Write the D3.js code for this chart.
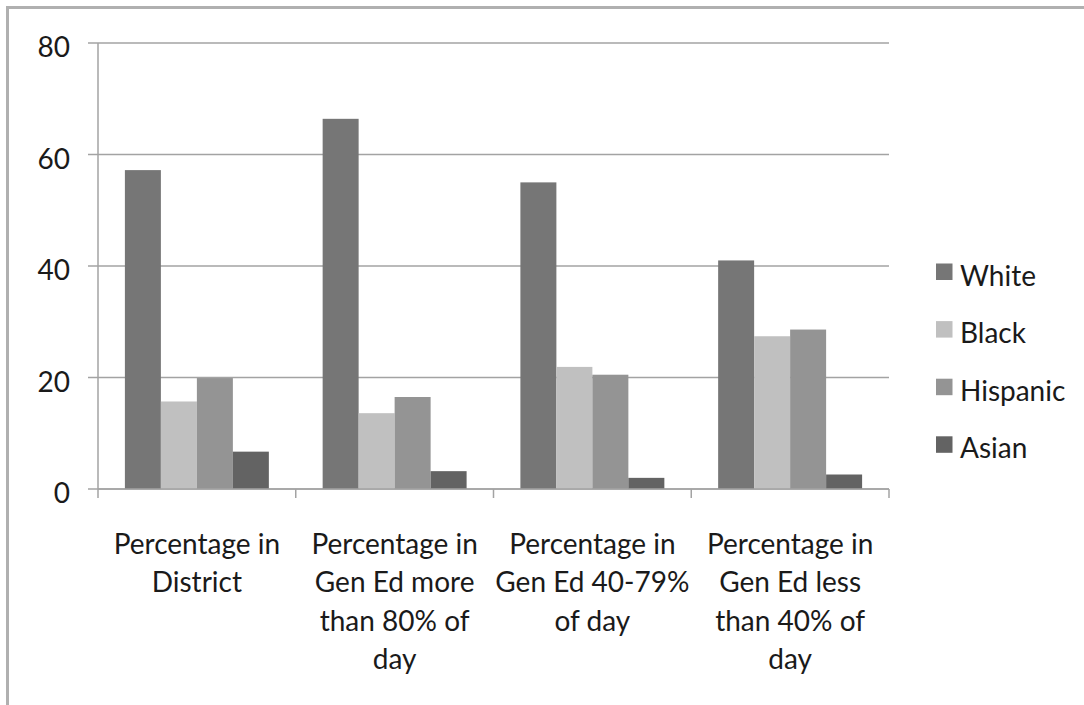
<!DOCTYPE html>
<html>
<head>
<meta charset="utf-8">
<script src="https://cdn.jsdelivr.net/npm/d3@7"></script>
<style>
  html, body { margin: 0; padding: 0; background: #fff; }
  svg { display: block; }
  text { font-family: Lato, "Open Sans", sans-serif; fill: #1a1a1a; }
</style>
</head>
<body>
<svg id="chart" width="1084" height="705"></svg>
<script>
const categories = [
  ["Percentage in", "District"],
  ["Percentage in", "Gen Ed more", "than 80% of", "day"],
  ["Percentage in", "Gen Ed 40-79%", "of day"],
  ["Percentage in", "Gen Ed less", "than 40% of", "day"]
];
const seriesNames = ["White", "Black", "Hispanic", "Asian"];
const white    = [57.2, 66.4, 55.0, 41.0];
const black    = [15.7, 13.6, 21.9, 27.4];
const hispanic = [19.9, 16.5, 20.5, 28.6];
const asian    = [6.7, 3.2, 2.0, 2.6];
const yTicks = [0, 20, 40, 60, 80];

const seriesValues = [white, black, hispanic, asian];
const colors = ["#767676", "#c0c0c0", "#949494", "#636363"];

const svg = d3.select("#chart");

// outer frame (cut at right/bottom)
svg.append("path")
  .attr("d", "M7.5,705 L7.5,7.5 L1084,7.5")
  .attr("fill", "none").attr("stroke", "#b0b0b0").attr("stroke-width", 3);

const pL = 98, pR = 889, pT = 43, pB = 489;

const catIdx = d3.range(categories.length);
const x0 = d3.scaleBand().domain(catIdx).range([pL, pR]).padding(0);
const bw = x0.bandwidth();
const gapFrac = 0.136;
const x1 = d3.scaleBand().domain(seriesNames).range([bw * gapFrac, bw * (1 - gapFrac)]).padding(0);
const y = d3.scaleLinear().domain([0, 80]).range([pB, pT]);

// gridlines
svg.append("g").selectAll("line").data(yTicks).join("line")
  .attr("x1", pL - 10).attr("x2", pR)
  .attr("y1", d => y(d)).attr("y2", d => y(d))
  .attr("stroke", "#a3a3a3").attr("stroke-width", 1.5);

// y-axis tick labels
svg.append("g").selectAll("text").data(yTicks).join("text")
  .attr("x", 70).attr("y", d => y(d) + 14)
  .attr("text-anchor", "end")
  .attr("font-size", 28)
  .text(d => d);

// bars
const groups = svg.append("g").selectAll("g").data(catIdx).join("g")
  .attr("transform", i => `translate(${x0(i)},0)`);
groups.selectAll("rect")
  .data(i => seriesNames.map((s, k) => ({ s, k, v: seriesValues[k][i] })))
  .join("rect")
  .attr("x", d => x1(d.s))
  .attr("width", x1.bandwidth())
  .attr("y", d => y(d.v))
  .attr("height", d => y(0) - y(d.v))
  .attr("fill", d => colors[d.k]);

// y axis line
svg.append("line")
  .attr("x1", pL).attr("x2", pL).attr("y1", pT).attr("y2", pB)
  .attr("stroke", "#a3a3a3").attr("stroke-width", 1.5);
// x axis line
svg.append("line")
  .attr("x1", pL).attr("x2", pR).attr("y1", pB).attr("y2", pB)
  .attr("stroke", "#a3a3a3").attr("stroke-width", 1.5);
// x ticks at category boundaries
const bounds = catIdx.map(i => x0(i)).concat([x0(catIdx[catIdx.length - 1]) + bw]);
svg.append("g").selectAll("line").data(bounds).join("line")
  .attr("x1", d => d).attr("x2", d => d)
  .attr("y1", pB).attr("y2", pB + 9)
  .attr("stroke", "#a3a3a3").attr("stroke-width", 1.5);

// category labels
const labels = svg.append("g").selectAll("text").data(catIdx).join("text")
  .attr("text-anchor", "middle")
  .attr("font-size", 28);
labels.each(function(i) {
  const t = d3.select(this);
  categories[i].forEach((line, j) => {
    t.append("tspan")
      .attr("x", x0(i) + bw / 2)
      .attr("y", 554 + j * 38.3)
      .text(line);
  });
});

// legend
const legend = svg.append("g").selectAll("g").data(seriesNames).join("g")
  .attr("transform", (d, k) => `translate(936,${263.5 + k * 57.6})`);
legend.append("rect")
  .attr("width", 16.5).attr("height", 16.5)
  .attr("fill", (d, k) => colors[k]);
legend.append("text")
  .attr("x", 24).attr("y", 22)
  .attr("font-size", 28)
  .text(d => d);
</script>
</body>
</html>
